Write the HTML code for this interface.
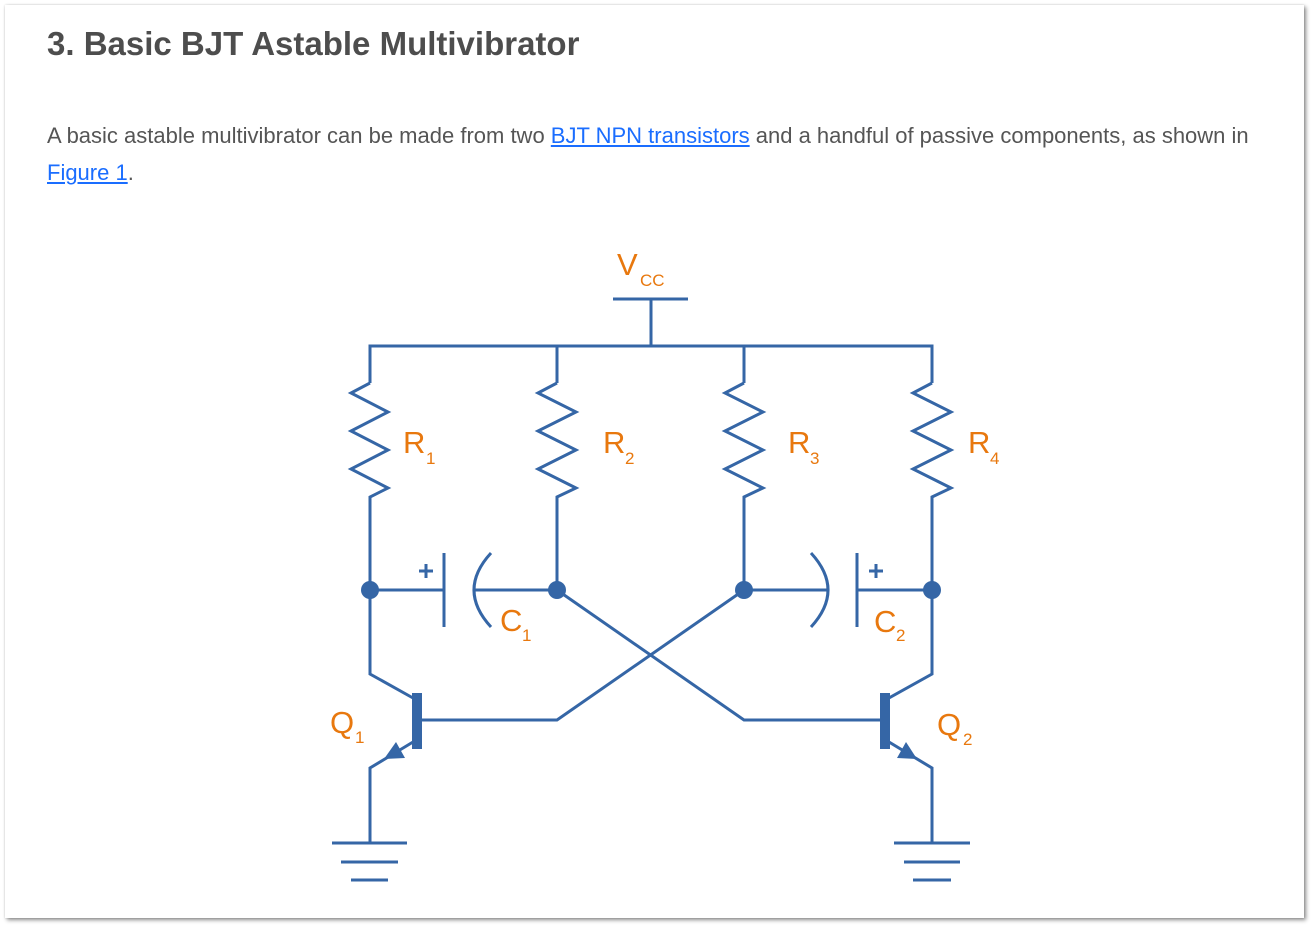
<!DOCTYPE html>
<html>
<head>
<meta charset="utf-8">
<style>
  html,body{margin:0;padding:0;background:#fff;}
  body{width:1313px;height:928px;position:relative;overflow:hidden;font-family:"Liberation Sans",Arial,sans-serif;}
  .card{position:absolute;left:5px;top:5px;width:1299px;height:913px;background:#fff;box-shadow:2px 2px 4px rgba(0,0,0,0.45),0 0 2px rgba(0,0,0,0.15);}
  h1{position:absolute;left:47px;top:22px;margin:0;font-size:33px;line-height:44px;font-weight:bold;color:#4d4d4d;white-space:nowrap;}
  p{position:absolute;left:47px;top:117px;margin:0;width:1230px;font-size:22px;line-height:37px;color:#555;}
  a{color:#1a6dff;text-decoration:underline;}
  svg{position:absolute;left:0;top:0;}
</style>
</head>
<body>
<div class="card"></div>
<h1>3. Basic BJT Astable Multivibrator</h1>
<p>A basic astable multivibrator can be made from two <a>BJT NPN transistors</a> and a handful of passive components, as shown in <a>Figure 1</a>.</p>
<svg width="1313" height="928" viewBox="0 0 1313 928">
  <g stroke="#3566a6" stroke-width="3" fill="none" stroke-linecap="butt" stroke-linejoin="miter">
    <!-- Vcc -->
    <line x1="613" y1="299" x2="688" y2="299"/>
    <line x1="651" y1="299" x2="651" y2="346"/>
    <!-- top rail -->
    <polyline points="370,383 370,346 932,346 932,383"/>
    <line x1="557" y1="346" x2="557" y2="383"/>
    <line x1="744" y1="346" x2="744" y2="383"/>
    <!-- resistors -->
    <polyline points="370,383 351,393 388,412 351,431 388,450 351,469 388,488 370,497 370,590"/>
    <polyline points="557,383 538,393 576,412 538,431 576,450 538,469 576,488 557,497 557,590"/>
    <polyline points="744,383 725,393 763,412 725,431 763,450 725,469 763,488 744,497 744,590"/>
    <polyline points="932,383 913,393 951,412 913,431 951,450 913,469 951,488 932,497 932,590"/>
    <!-- C1 -->
    <line x1="370" y1="590" x2="444" y2="590"/>
    <line x1="444" y1="553" x2="444" y2="627"/>
    <path d="M491,553 Q457,590 491,627"/>
    <line x1="474" y1="590" x2="557" y2="590"/>
    <line x1="419" y1="571" x2="433" y2="571"/>
    <line x1="426" y1="564" x2="426" y2="578"/>
    <!-- C2 -->
    <line x1="744" y1="590" x2="827" y2="590"/>
    <path d="M811,553 Q845,590 811,627"/>
    <line x1="857" y1="553" x2="857" y2="627"/>
    <line x1="857" y1="590" x2="932" y2="590"/>
    <line x1="869" y1="571" x2="883" y2="571"/>
    <line x1="876" y1="564" x2="876" y2="578"/>
    <!-- cross -->
    <polyline points="557,590 744,720 881,720"/>
    <polyline points="744,590 557,720 421,720"/>
    <!-- Q1 -->
    <polyline points="370,590 370,674 413,698"/>
    <polyline points="413,742 370,768 370,843"/>
    <line x1="332" y1="843" x2="407" y2="843"/>
    <line x1="341" y1="862" x2="398" y2="862"/>
    <line x1="351" y1="880" x2="388" y2="880"/>
    <!-- Q2 -->
    <polyline points="932,590 932,674 889,698"/>
    <polyline points="889,742 932,768 932,843"/>
    <line x1="894" y1="843" x2="970" y2="843"/>
    <line x1="904" y1="862" x2="960" y2="862"/>
    <line x1="913" y1="880" x2="951" y2="880"/>
  </g>
  <g fill="#3566a6">
    <circle cx="370" cy="590" r="9"/>
    <circle cx="557" cy="590" r="9"/>
    <circle cx="744" cy="590" r="9"/>
    <circle cx="932" cy="590" r="9"/>
    <rect x="412" y="693" width="10" height="56"/>
    <rect x="880" y="693" width="10" height="56"/>
    <polygon points="384,759 396,742 405,758"/>
    <polygon points="917,759 906,742 897,758"/>
  </g>
  <g fill="#e8780e" font-family="Liberation Sans, Arial, sans-serif">
    <text x="617" y="275" font-size="31">V</text>
    <text x="640" y="286" font-size="17">CC</text>
    <text x="403" y="453" font-size="31">R</text>
    <text x="426" y="464" font-size="17">1</text>
    <text x="603" y="453" font-size="31">R</text>
    <text x="625" y="464" font-size="17">2</text>
    <text x="788" y="453" font-size="31">R</text>
    <text x="810" y="464" font-size="17">3</text>
    <text x="968" y="453" font-size="31">R</text>
    <text x="990" y="464" font-size="17">4</text>
    <text x="500" y="631" font-size="31">C</text>
    <text x="522" y="641" font-size="17">1</text>
    <text x="874" y="632" font-size="31">C</text>
    <text x="896" y="641" font-size="17">2</text>
    <text x="330" y="733" font-size="31">Q</text>
    <text x="355" y="743" font-size="17">1</text>
    <text x="937" y="735" font-size="31">Q</text>
    <text x="963" y="745" font-size="17">2</text>
  </g>
</svg>
</body>
</html>
